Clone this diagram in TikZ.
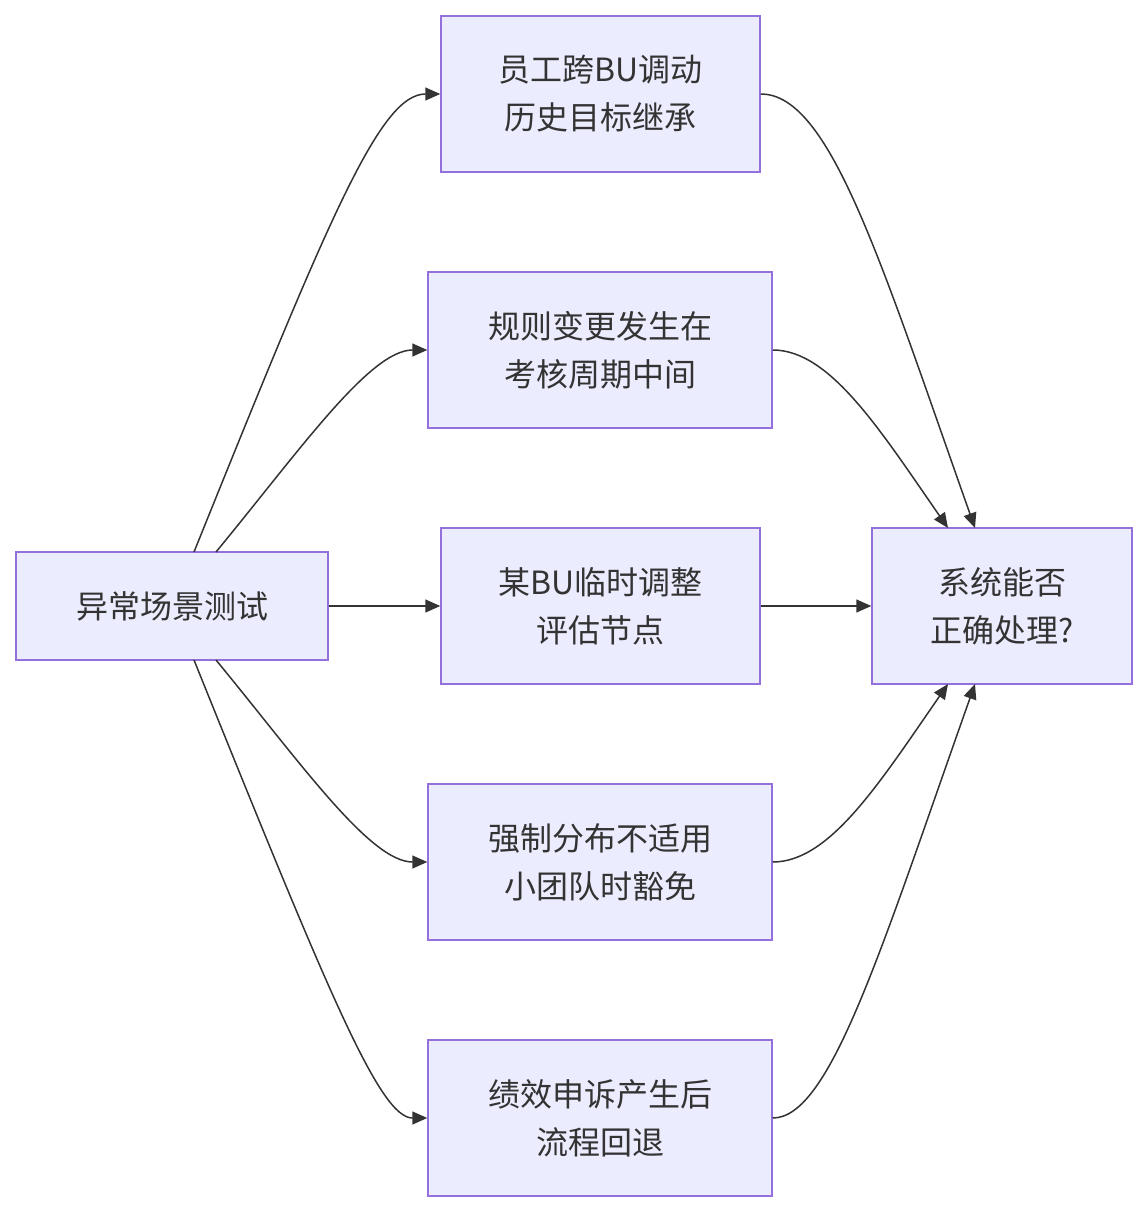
\documentclass[tikz,border=0pt]{standalone}
\usepackage{fontspec}
\setmainfont{Noto Sans CJK SC}
\usetikzlibrary{arrows.meta}
\begin{document}
\begin{tikzpicture}[x=1pt,y=-1pt,
  box/.style={draw=boxborder,fill=boxfill,line width=1.5pt,align=center,
    font=\fontsize{32}{48}\selectfont,text=textcol,inner sep=0pt},
  conn/.style={draw=linecol,line width=1.5pt,-{Triangle[length=15pt,width=13pt]}}]
\definecolor{boxfill}{HTML}{ECECFF}
\definecolor{boxborder}{HTML}{9370DB}
\definecolor{linecol}{HTML}{333333}
\definecolor{textcol}{HTML}{333333}
\useasboundingbox (0,0) rectangle (1147,1212);
\node[box,minimum width=312pt,minimum height=108pt] (A) at (172,606) {异常场景测试};
\node[box,minimum width=319pt,minimum height=156pt] (B1) at (600.5,94) {员工跨BU调动\\历史目标继承};
\node[box,minimum width=344pt,minimum height=156pt] (B2) at (600,350) {规则变更发生在\\考核周期中间};
\node[box,minimum width=319pt,minimum height=156pt] (B3) at (600.5,606) {某BU临时调整\\评估节点};
\node[box,minimum width=344pt,minimum height=156pt] (B4) at (600,862) {强制分布不适用\\小团队时豁免};
\node[box,minimum width=344pt,minimum height=156pt] (B5) at (600,1118) {绩效申诉产生后\\流程回退};
\node[box,minimum width=260pt,minimum height=156pt] (C) at (1002,606) {系统能否\\正确处理?};
\coordinate (a1) at (194,552);
\coordinate (a2) at (216,552);
\coordinate (a4) at (216,660);
\coordinate (a5) at (194,660);
\coordinate (c1) at (975,528);
\coordinate (c2) at (948,528);
\coordinate (c4) at (948,684);
\coordinate (c5) at (975,684);
\draw[conn] (a1) .. controls (330,215) and (380,94) .. (B1.west);
\draw[conn] (a2) .. controls (300,450) and (370,350) .. (B2.west);
\draw[conn] (A.east) -- (B3.west);
\draw[conn] (a4) .. controls (300,762) and (370,862) .. (B4.west);
\draw[conn] (a5) .. controls (330,997) and (380,1118) .. (B5.west);
\draw[conn] (B1.east) .. controls (830,94) and (880,260) .. (c1);
\draw[conn] (B2.east) .. controls (830,350) and (880,430) .. (c2);
\draw[conn] (B3.east) -- (C.west);
\draw[conn] (B4.east) .. controls (830,862) and (880,782) .. (c4);
\draw[conn] (B5.east) .. controls (830,1118) and (880,952) .. (c5);
\end{tikzpicture}
\end{document}
